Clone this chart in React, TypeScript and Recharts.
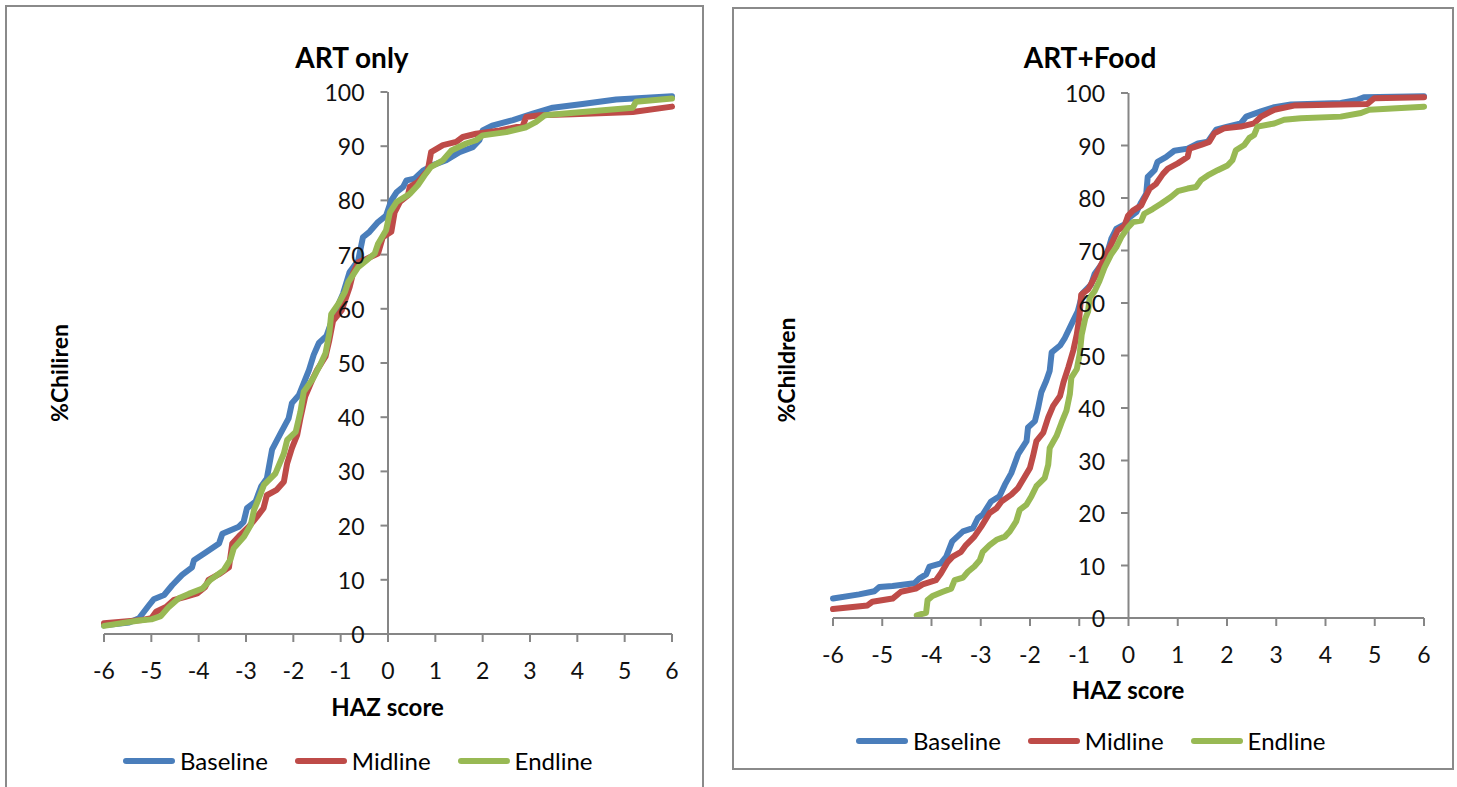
import React from 'react';
import { LineChart, Line, XAxis, YAxis, ReferenceLine } from 'recharts';

// HAZ score ticks and % ticks
const xTicks = [-6, -5, -4, -3, -2, -1, 0, 1, 2, 3, 4, 5, 6];
const yTicks = [0, 10, 20, 30, 40, 50, 60, 70, 80, 90, 100];

const seriesNames = ['Baseline', 'Midline', 'Endline'];
const seriesColors = ['#4A7EBB', '#BE4B48', '#98B954'];

// cumulative % of children by HAZ score
const artOnlyBaseline = [
  [-6, 1.6], [-5.47, 2.1], [-5.26, 2.9], [-5.05, 5.3], [-4.95, 6.4], [-4.73, 7.2], [-4.56, 9.0], [-4.35, 10.9],
  [-4.14, 12.3], [-4.1, 13.6], [-3.86, 15.0], [-3.57, 16.7], [-3.5, 18.5], [-3.15, 19.8], [-3.05, 20.7], [-2.98, 23.2],
  [-2.8, 24.4], [-2.68, 27.2], [-2.56, 28.7], [-2.45, 34], [-2.27, 37], [-2.1, 39.8], [-2.03, 42.6], [-1.88, 44.1],
  [-1.67, 48.7], [-1.57, 51.5], [-1.46, 53.7], [-1.3, 55], [-1.16, 58.5], [-0.95, 62.8], [-0.81, 66.8], [-0.63, 68.9],
  [-0.53, 73.2], [-0.39, 74.2], [-0.21, 76], [-0.04, 77.2], [0.07, 80], [0.18, 81.5], [0.32, 82.5], [0.39, 83.7],
  [0.56, 84], [0.74, 85.5], [0.95, 86.5], [1.23, 87.4], [1.51, 88.9], [1.79, 89.8], [1.93, 91.1], [2.0, 92.9],
  [2.2, 93.8], [2.64, 94.8], [3.06, 96], [3.48, 97.1], [4.11, 97.8], [4.82, 98.6], [6, 99.2],
];
const artOnlyMidline = [
  [-6, 2.0], [-5.19, 2.6], [-5.0, 2.9], [-4.9, 4.1], [-4.69, 5.0], [-4.52, 6.3], [-4.3, 6.8], [-4.03, 7.5],
  [-3.86, 8.7], [-3.79, 10.0], [-3.54, 11.2], [-3.36, 12.3], [-3.29, 16.7], [-3.12, 18.3], [-2.94, 19.8], [-2.77, 21.6],
  [-2.63, 23.2], [-2.56, 25.6], [-2.35, 26.6], [-2.2, 28.1], [-2.13, 31.5], [-2.03, 34.3], [-1.92, 36.7], [-1.85, 39.8],
  [-1.75, 43.8], [-1.6, 46.9], [-1.5, 48.7], [-1.32, 51.2], [-1.24, 54.2], [-1.16, 57.8], [-0.98, 59.7], [-0.81, 64],
  [-0.74, 66.5], [-0.63, 68.6], [-0.46, 69.2], [-0.21, 70.2], [-0.11, 73.2], [0.07, 74.2], [0.14, 77.8], [0.25, 79.7],
  [0.42, 80.9], [0.46, 82.5], [0.63, 83.4], [0.84, 85.5], [0.91, 88.9], [1.16, 90.2], [1.44, 90.8], [1.58, 91.7],
  [1.86, 92.3], [2.36, 92.9], [2.85, 93.8], [2.92, 95.4], [3.2, 95.7], [3.9, 95.9], [5.17, 96.3], [6, 97.3],
];
const artOnlyEndline = [
  [-6, 1.5], [-5.26, 2.5], [-5.0, 2.7], [-4.8, 3.3], [-4.63, 5.0], [-4.42, 6.6], [-4.21, 7.4], [-3.92, 8.4],
  [-3.75, 10.0], [-3.47, 11.8], [-3.33, 13.7], [-3.26, 15.8], [-3.04, 18.0], [-2.9, 20.1], [-2.83, 22.9], [-2.73, 25],
  [-2.62, 27.5], [-2.38, 29.6], [-2.2, 33.3], [-2.13, 35.8], [-1.95, 37.3], [-1.85, 41], [-1.78, 44.7], [-1.6, 46.9],
  [-1.42, 49.9], [-1.32, 51.8], [-1.24, 55.5], [-1.2, 59], [-1.05, 60.9], [-0.91, 63.1], [-0.84, 64.9], [-0.63, 67.7],
  [-0.46, 68.9], [-0.28, 70.2], [-0.21, 72], [-0.04, 74.5], [0.04, 77.8], [0.18, 79.7], [0.46, 81.2], [0.63, 82.8],
  [0.77, 84.6], [0.91, 86.2], [1.16, 87.4], [1.34, 89.2], [1.65, 90.5], [1.86, 91.1], [2.0, 92], [2.5, 92.6],
  [2.92, 93.5], [3.13, 94.5], [3.31, 95.7], [4.11, 96.3], [5.17, 97.1], [5.24, 98.2], [6, 98.8],
];

const artFoodBaseline = [
  [-6, 3.7], [-5.47, 4.5], [-5.16, 5.1], [-5.06, 5.9], [-4.79, 6.1], [-4.35, 6.6], [-4.25, 7.5], [-4.11, 8.3],
  [-4.04, 9.8], [-3.81, 10.4], [-3.7, 11.7], [-3.58, 14.6], [-3.36, 16.5], [-3.16, 17.1], [-3.06, 19], [-2.96, 19.7],
  [-2.79, 22.2], [-2.62, 23.2], [-2.51, 25.4], [-2.38, 27.6], [-2.24, 31.2], [-2.07, 33.7], [-2.04, 36.3], [-1.9, 37.5],
  [-1.84, 39.8], [-1.77, 43], [-1.67, 45.2], [-1.6, 47.1], [-1.56, 50.6], [-1.39, 51.9], [-1.3, 53.2], [-1.13, 56.5],
  [-1.03, 58.4], [-0.93, 61.9], [-0.76, 63.5], [-0.69, 65.5], [-0.52, 67.7], [-0.42, 69.9], [-0.35, 72.2], [-0.25, 74.1],
  [-0.08, 75], [0.02, 76.3], [0.16, 77.3], [0.26, 79.2], [0.36, 80.8], [0.39, 84], [0.53, 85.3], [0.59, 86.9],
  [0.76, 87.8], [0.93, 89], [1.2, 89.4], [1.41, 90.4], [1.61, 90.7], [1.78, 93], [2.01, 93.6], [2.28, 94.2],
  [2.39, 95.5], [2.69, 96.5], [2.96, 97.3], [3.3, 97.8], [4.31, 98.1], [4.65, 98.7], [4.78, 99.2], [6, 99.4],
];
const artFoodMidline = [
  [-6, 1.7], [-5.3, 2.4], [-5.2, 3.1], [-4.79, 3.7], [-4.62, 5], [-4.32, 5.6], [-4.18, 6.4], [-3.91, 7.2],
  [-3.81, 8.5], [-3.67, 10.7], [-3.57, 11.7], [-3.4, 12.6], [-3.3, 13.9], [-3.13, 15.5], [-2.99, 17.4], [-2.82, 20],
  [-2.68, 20.9], [-2.58, 22.2], [-2.38, 23.5], [-2.24, 24.8], [-2.14, 26.4], [-2.0, 28.6], [-1.94, 30.8], [-1.87, 33.7],
  [-1.73, 35.3], [-1.63, 38.2], [-1.53, 40.4], [-1.39, 42.3], [-1.32, 44.9], [-1.22, 47.8], [-1.12, 51], [-1.05, 54],
  [-1.0, 57.1], [-0.96, 61.6], [-0.82, 62.6], [-0.69, 64.8], [-0.55, 67.4], [-0.42, 69.9], [-0.32, 71.8], [-0.22, 73.8],
  [-0.08, 74.7], [-0.01, 76.6], [0.09, 77.6], [0.26, 78.6], [0.32, 79.8], [0.43, 81.8], [0.56, 82.7], [0.7, 84.6],
  [0.8, 85.6], [1.0, 86.6], [1.2, 87.8], [1.24, 89.4], [1.47, 90.1], [1.64, 90.7], [1.74, 92.3], [1.95, 93.3],
  [2.28, 93.6], [2.55, 94.2], [2.69, 95.5], [2.96, 96.8], [3.36, 97.6], [4.31, 97.8], [4.85, 97.9], [4.99, 99], [6, 99.2],
];
const artFoodEndline = [
  [-4.3, 0.5], [-4.11, 1.0], [-4.08, 3.4], [-3.98, 4.2], [-3.77, 5], [-3.6, 5.6], [-3.53, 7.2], [-3.36, 7.7],
  [-3.26, 8.8], [-3.13, 9.8], [-3.02, 11], [-2.96, 12.6], [-2.82, 13.9], [-2.68, 14.9], [-2.51, 15.5], [-2.41, 16.5],
  [-2.28, 18.4], [-2.21, 20.6], [-2.07, 21.6], [-1.97, 23.2], [-1.87, 25.1], [-1.7, 26.7], [-1.63, 29.2], [-1.6, 32.4],
  [-1.46, 34.7], [-1.36, 37.2], [-1.26, 39.5], [-1.19, 42.7], [-1.16, 45.8], [-1.05, 47.4], [-0.99, 50.3], [-0.95, 54],
  [-0.88, 57], [-0.82, 58.4], [-0.79, 61], [-0.69, 62.2], [-0.59, 64.2], [-0.49, 66.7], [-0.35, 69.3], [-0.25, 70.6],
  [-0.15, 72.5], [-0.01, 74.4], [0.09, 75.4], [0.26, 75.7], [0.32, 77], [0.49, 77.9], [0.66, 78.9], [0.86, 80.2],
  [1.0, 81.3], [1.2, 81.8], [1.37, 82.1], [1.47, 83.4], [1.61, 84.3], [1.81, 85.3], [2.01, 86.2], [2.11, 87.2],
  [2.18, 89.1], [2.35, 90.1], [2.45, 91.4], [2.55, 92], [2.62, 93.6], [2.96, 94.2], [3.16, 94.9], [3.5, 95.2],
  [4.31, 95.5], [4.72, 96.2], [4.89, 96.8], [6, 97.4],
];

const toPoints = (arr) => arr.map(([x, y]) => ({ x, y }));

const AXIS = '#868686';
const FONT = 'Lato, "Open Sans", sans-serif';

const Panel = ({ left, width, height, margin, series, title, titleX, yLabel, yLabelX, yLabelY, xLabelY, legendX, legendY }) => {
  const plotW = width - margin.left - margin.right;
  const axisX = margin.left + plotW / 2; // pixel of HAZ = 0
  const plotBottom = height - margin.bottom - 40;

  const renderYTick = ({ y, payload }) => (
    <g>
      <line x1={axisX - 7} x2={axisX} y1={y} y2={y} stroke={AXIS} strokeWidth={2} />
      <text x={axisX - 23} y={y} textAnchor="end" dominantBaseline="central" fontSize={23} fontFamily={FONT} fill="#111">
        {payload.value}
      </text>
    </g>
  );

  const renderXTick = ({ x, payload }) => (
    <text x={x} y={plotBottom + 36} textAnchor="middle" dominantBaseline="central" fontSize={23} fontFamily={FONT} fill="#111">
      {payload.value}
    </text>
  );

  return (
    <div style={{ position: 'absolute', left, top: 0, width, height }}>
      <LineChart width={width} height={height} margin={margin}>
        <XAxis
          type="number"
          dataKey="x"
          domain={[-6, 6]}
          ticks={xTicks}
          interval={0}
          height={40}
          axisLine={{ stroke: AXIS, strokeWidth: 2 }}
          tickLine={{ stroke: AXIS, strokeWidth: 2 }}
          tickSize={8}
          tick={renderXTick}
        />
        <YAxis
          type="number"
          domain={[0, 100]}
          ticks={yTicks}
          interval={0}
          width={1}
          axisLine={false}
          tickLine={false}
          tick={renderYTick}
        />
        <ReferenceLine x={0} stroke={AXIS} strokeWidth={2} />
        {series.map((s, i) => (
          <Line
            key={seriesNames[i]}
            data={toPoints(s)}
            dataKey="y"
            name={seriesNames[i]}
            type="linear"
            stroke={seriesColors[i]}
            strokeWidth={6}
            strokeLinejoin="round"
            strokeLinecap="round"
            dot={false}
            isAnimationActive={false}
          />
        ))}
      </LineChart>
      <div style={{ position: 'absolute', left: titleX, top: 57, transform: 'translate(-50%, -50%)', fontSize: 28, fontWeight: 700, lineHeight: 1, whiteSpace: 'nowrap' }}>
        {title}
      </div>
      <div style={{ position: 'absolute', left: yLabelX, top: yLabelY, transform: 'translate(-50%, -50%) rotate(-90deg)', fontSize: 23, fontWeight: 700, lineHeight: 1, whiteSpace: 'nowrap' }}>
        {yLabel}
      </div>
      <div style={{ position: 'absolute', left: axisX, top: xLabelY, transform: 'translate(-50%, -50%)', fontSize: 24, fontWeight: 700, lineHeight: 1, whiteSpace: 'nowrap' }}>
        HAZ score
      </div>
      <div style={{ position: 'absolute', left: legendX, top: legendY, transform: 'translateY(-50%)', display: 'flex', alignItems: 'center', gap: 27, fontSize: 24, lineHeight: 1, whiteSpace: 'nowrap' }}>
        {seriesNames.map((n, i) => (
          <div key={n} style={{ display: 'flex', alignItems: 'center' }}>
            <span style={{ display: 'inline-block', width: 52, height: 6, borderRadius: 3, background: seriesColors[i], marginRight: 5 }} />
            <span>{n}</span>
          </div>
        ))}
      </div>
    </div>
  );
};

const App = () => {
  return (
    <div style={{ position: 'absolute', left: 0, top: 0, width: 1457, height: 787, overflow: 'hidden', background: '#fff', fontFamily: FONT, color: '#000' }}>
      <div style={{ position: 'absolute', left: 5, top: 5, width: 699, height: 820, boxSizing: 'border-box', border: '2px solid #8a8a8a' }} />
      <div style={{ position: 'absolute', left: 732, top: 7, width: 722, height: 763, boxSizing: 'border-box', border: '2px solid #8a8a8a' }} />
      <Panel
        left={0}
        width={720}
        height={787}
        margin={{ top: 92, right: 48, bottom: 113, left: 103 }}
        series={[artOnlyBaseline, artOnlyMidline, artOnlyEndline]}
        title="ART only"
        titleX={352}
        yLabel="%Chiliren"
        yLabelX={59}
        yLabelY={373}
        xLabelY={707}
        legendX={123}
        legendY={761}
      />
      <Panel
        left={720}
        width={737}
        height={787}
        margin={{ top: 93, right: 33, bottom: 129, left: 112 }}
        series={[artFoodBaseline, artFoodMidline, artFoodEndline]}
        title="ART+Food"
        titleX={370}
        yLabel="%Children"
        yLabelX={66}
        yLabelY={370}
        xLabelY={690}
        legendX={136}
        legendY={741}
      />
    </div>
  );
};

export default App;
